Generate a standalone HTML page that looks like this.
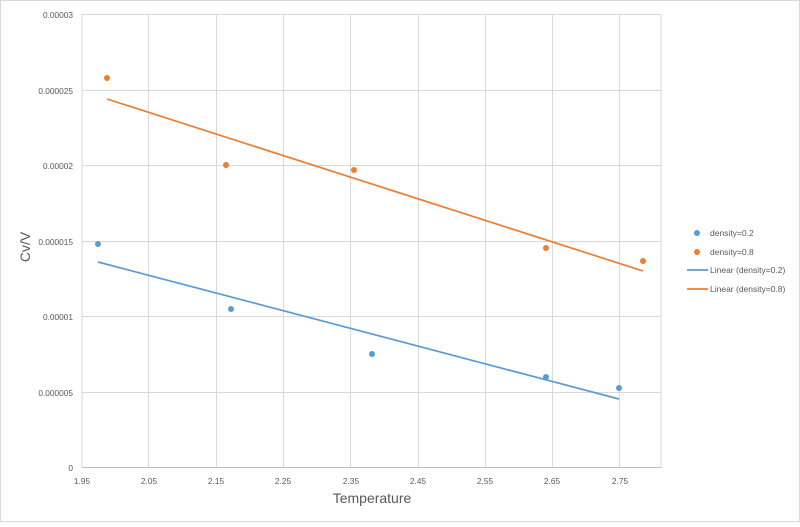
<!DOCTYPE html>
<html><head><style>body{margin:0;background:#fff}</style></head><body>
<svg width="800" height="522" xmlns="http://www.w3.org/2000/svg" font-family="Liberation Sans, sans-serif">
<rect x="0.5" y="0.5" width="799" height="521" fill="#fff" stroke="#d9d9d9"/>
<g stroke="#d9d9d9" stroke-width="1">
<line x1="82" y1="14.5" x2="661" y2="14.5"/>
<line x1="82" y1="90.5" x2="661" y2="90.5"/>
<line x1="82" y1="165.5" x2="661" y2="165.5"/>
<line x1="82" y1="241.5" x2="661" y2="241.5"/>
<line x1="82" y1="316.5" x2="661" y2="316.5"/>
<line x1="82" y1="392.5" x2="661" y2="392.5"/>
<line x1="148.5" y1="14" x2="148.5" y2="467"/>
<line x1="216.5" y1="14" x2="216.5" y2="467"/>
<line x1="283.5" y1="14" x2="283.5" y2="467"/>
<line x1="350.5" y1="14" x2="350.5" y2="467"/>
<line x1="418.5" y1="14" x2="418.5" y2="467"/>
<line x1="485.5" y1="14" x2="485.5" y2="467"/>
<line x1="552.5" y1="14" x2="552.5" y2="467"/>
<line x1="619.5" y1="14" x2="619.5" y2="467"/>
<line x1="661" y1="14" x2="661" y2="467"/>
</g>
<line x1="82" y1="467.5" x2="661" y2="467.5" stroke="#bfbfbf"/>
<line x1="82" y1="14" x2="82" y2="467" stroke="#d9d9d9"/>
<g font-size="8.3" fill="#595959" text-anchor="end">
<text x="73" y="18">0.00003</text>
<text x="73" y="94">0.000025</text>
<text x="73" y="169">0.00002</text>
<text x="73" y="245">0.000015</text>
<text x="73" y="320">0.00001</text>
<text x="73" y="396">0.000005</text>
<text x="73" y="471">0</text>
</g>
<g font-size="8.3" fill="#595959" text-anchor="middle">
<text x="82" y="484">1.95</text><text x="149" y="484">2.05</text><text x="216" y="484">2.15</text>
<text x="283" y="484">2.25</text><text x="351" y="484">2.35</text><text x="418" y="484">2.45</text>
<text x="485" y="484">2.55</text><text x="552" y="484">2.65</text><text x="620" y="484">2.75</text>
</g>
<text x="372" y="503" font-size="14" fill="#595959" text-anchor="middle">Temperature</text>
<text transform="translate(30,247) rotate(-90)" font-size="14" fill="#595959" text-anchor="middle">Cv/V</text>
<line x1="98" y1="262" x2="619" y2="399" stroke="#5b9bd5" stroke-width="1.7"/>
<line x1="107" y1="99" x2="643" y2="271" stroke="#ed7d31" stroke-width="1.7"/>
<g fill="#5b9bd5">
<circle cx="98" cy="244" r="3"/><circle cx="231" cy="309" r="3"/><circle cx="372" cy="354" r="3"/><circle cx="546" cy="377" r="3"/><circle cx="619" cy="388" r="3"/>
</g>
<g fill="#ed7d31">
<circle cx="107" cy="78" r="3"/><circle cx="226" cy="165" r="3"/><circle cx="354" cy="170" r="3"/><circle cx="546" cy="248" r="3"/><circle cx="643" cy="261" r="3"/>
</g>
<g font-size="8.5" fill="#595959">
<circle cx="697" cy="233" r="3" fill="#5b9bd5"/><text x="710" y="236">density=0.2</text>
<circle cx="697" cy="252" r="3" fill="#ed7d31"/><text x="710" y="255">density=0.8</text>
<line x1="687" y1="270" x2="708" y2="270" stroke="#5b9bd5" stroke-width="1.7"/><text x="710" y="273">Linear (density=0.2)</text>
<line x1="687" y1="289" x2="708" y2="289" stroke="#ed7d31" stroke-width="1.7"/><text x="710" y="292">Linear (density=0.8)</text>
</g>
</svg>
</body></html>
